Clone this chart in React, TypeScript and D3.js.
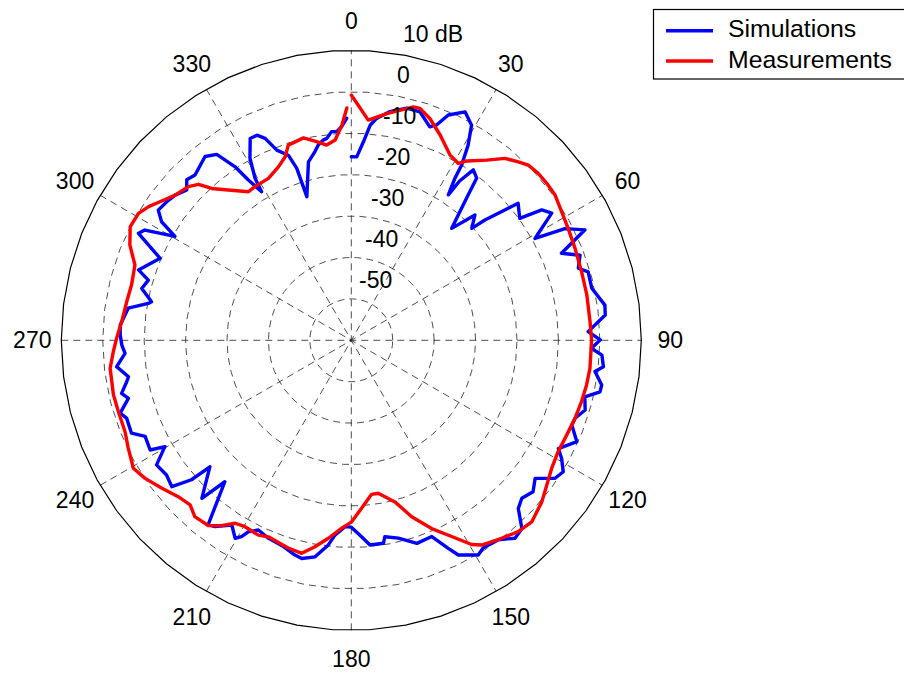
import React from "react";
import * as d3 from "d3";

// Measurement pattern (red), angle in degrees (clockwise from top) and level in dB
const measAngles = [0, 4.4, 8.9, 14.9, 16.5, 19.5, 23.4, 28.0, 31.2, 32.8, 36.9, 40.2, 43.1, 45.3, 48.2, 51.7, 54.5, 58.6, 62.7, 67.6, 73.4, 79.1, 85.5, 89.9, 96.7, 100.8, 104.9, 109.2, 113.7, 118.3, 122.6, 126.5, 130.3, 135.2, 138.9, 142.8, 147.5, 149.5, 152.9, 156.9, 161.1, 164.9, 170.0, 172.5, 176.5, 180.0, 182.9, 186.6, 190.0, 193.1, 196.9, 202.9, 205.5, 209.7, 212.4, 215.0, 217.7, 221.6, 224.4, 227.9, 232.0, 236.2, 239.6, 244.2, 248.0, 253.0, 257.1, 263.4, 267.3, 270.7, 274.6, 279.8, 284.1, 289.2, 293.3, 297.2, 300.8, 303.4, 306.3, 309.5, 313.3, 315.6, 317.4, 320.7, 325.3, 327.9, 332.9, 337.2, 340.2, 342.1, 346.7, 350.1, 352.8, 355.4, 357.5, 358.9];
const measDb = [-0.8, -6.7, -4.6, -1.7, -1.6, -3.2, -6.0, -9.3, -10.1, -8.5, -5.6, -2.5, -1.0, 0.1, 0.5, 0.5, 0.4, -0.5, -1.1, -1.6, -2.0, -2.1, -2.2, -2.0, -2.0, -2.2, -2.5, -2.8, -3.2, -3.3, -2.6, -1.3, 0.3, 1.8, 1.3, 0.0, -1.4, -2.8, -6.8, -10.6, -15.0, -19.6, -22.5, -22.5, -19.4, -16.1, -14.6, -11.9, -9.4, -7.2, -7.6, -8.5, -7.9, -8.2, -7.7, -5.4, -3.5, -3.1, -4.4, -3.7, -2.0, -0.1, 1.0, -0.2, -1.1, -1.2, -1.1, -1.4, -2.5, -3.4, -4.4, -5.0, -5.3, -4.7, -1.8, 0.0, -0.2, -1.4, -3.2, -4.9, -5.9, -7.3, -10.2, -13.1, -16.4, -16.2, -16.1, -14.6, -12.9, -10.5, -9.8, -11.3, -12.5, -11.5, -8.0, -3.9];

// Simulation pattern (blue)
const simAngles = [0, 1.7, 3.5, 5.0, 6.5, 9.6, 13.4, 16.7, 20.2, 21.6, 23.3, 26.5, 29.2, 30.9, 32.2, 32.6, 33.7, 34.2, 35.6, 37.7, 38.8, 41.9, 44.6, 47.1, 48.0, 50.6, 54.1, 55.6, 57.6, 61.0, 62.4, 64.7, 67.5, 69.6, 72.4, 73.9, 77.8, 82.1, 84.3, 87.9, 89.9, 91.9, 93.4, 96.0, 97.3, 100.1, 101.7, 103.6, 106.6, 109.2, 111.0, 114.2, 117.6, 119.3, 121.8, 124.1, 126.9, 129.8, 132.8, 135.2, 137.8, 140.4, 143.6, 147.6, 149.4, 153.5, 155.0, 157.7, 162.1, 166.6, 170.3, 171.0, 174.8, 177.0, 180.0, 181.9, 184.8, 186.4, 189.5, 192.8, 194.7, 198.2, 202.8, 206.1, 208.3, 209.2, 210.4, 212.9, 216.2, 217.8, 221.8, 223.4, 228.2, 228.9, 230.8, 233.9, 237.4, 240.3, 241.4, 245.0, 247.1, 250.9, 252.5, 255.4, 257.0, 259.6, 260.7, 263.6, 266.7, 268.8, 271.3, 273.8, 278.2, 280.3, 280.9, 283.9, 286.5, 288.3, 293.2, 296.7, 298.1, 300.5, 302.0, 304.0, 306.9, 309.5, 312.4, 314.3, 316.6, 321.5, 324.1, 326.2, 327.3, 328.9, 329.3, 330.9, 333.4, 335.3, 336.9, 338.6, 341.2, 342.4, 342.8, 346.5, 349.1, 350.4, 352.0, 353.1, 354.6, 356.0, 357.4, 358.8];
const simDb = [-15.7, -15.7, -12.0, -7.9, -6.1, -4.0, -2.4, -2.4, -5.1, -4.1, -0.8, 1.6, -0.5, -5.1, -10.0, -13.6, -17.8, -13.5, -9.4, -10.5, -15.0, -23.7, -17.5, -20.3, -16.6, -7.9, -9.8, -4.3, -2.7, -9.3, -1.8, 2.4, -5.1, -1.1, -2.5, -0.5, -0.6, 1.8, 1.6, -2.8, 0.1, -2.0, 0.6, 1.2, -0.7, 1.4, 1.3, -2.0, -1.1, -2.8, -3.0, -0.3, -3.6, -1.8, 0.2, -0.6, -4.5, -2.9, -3.9, -2.8, 1.3, 2.0, -0.2, -0.6, 0.2, -2.1, -4.6, -8.8, -8.5, -10.9, -11.9, -10.4, -10.4, -12.5, -14.9, -15.0, -12.8, -10.3, -7.0, -6.0, -6.4, -7.6, -8.2, -9.0, -7.5, -5.7, -4.6, -6.9, -4.3, -3.6, -14.2, -7.5, -14.2, -8.8, -4.1, -4.8, -4.2, -8.2, -4.7, -5.1, -2.4, -2.6, -1.5, -4.4, -3.1, -4.9, -5.5, -3.0, -5.3, -4.6, -4.2, -4.1, -5.6, -10.2, -10.9, -7.9, -8.9, -5.9, -9.8, -2.5, -3.5, -10.6, -6.0, -3.8, -4.3, -4.9, -6.2, -4.5, -5.1, -3.3, -4.6, -9.6, -14.0, -18.1, -14.5, -9.7, -5.5, -5.5, -7.0, -10.7, -12.8, -16.4, -23.7, -15.7, -13.6, -12.2, -11.2, -10.9, -9.4, -9.5, -8.4, -6.4];

const ringValues = [-50, -40, -30, -20, -10, 0];
const ringLabels = ["-50", "-40", "-30", "-20", "-10", "0"];
const outerValue = 10;
const outerLabel = "10 dB";
const angleTicks = [0, 30, 60, 90, 120, 150, 180, 210, 240, 270, 300, 330];
const seriesNames = ["Simulations", "Measurements"];

const W = 904;
const H = 675;
const cx = 351.3;
const cy = 340.3;
const R = 290;
const FONT = "'Liberation Sans', Arial, Helvetica, sans-serif";

export default function App() {
  const r = d3.scaleLinear().domain([-60, outerValue]).range([0, R]);
  const rad = (deg: number) => (deg * Math.PI) / 180;

  // circles drawn as 50-segment polygons (vertex at 3 o'clock)
  const segAngles = d3.range(50).map((k) => Math.PI / 2 - (k * 2 * Math.PI) / 50);
  const ringPath = (radius: number) =>
    d3.lineRadial<number>().angle((a) => a).radius(radius).curve(d3.curveLinearClosed)(segAngles) || "";

  const line = d3
    .lineRadial<[number, number]>()
    .angle((d) => rad(d[0]))
    .radius((d) => r(d[1]))
    .curve(d3.curveLinear);

  const simData: [number, number][] = simAngles.map((a, i) => [a, simDb[i]]);
  const measData: [number, number][] = measAngles.map((a, i) => [a, measDb[i]]);

  const gridStyle = { fill: "none", stroke: "#222", strokeWidth: 0.8, strokeDasharray: "7,5" };

  const labelPos = (v: number, hasMinus: boolean) => {
    const rr = r(v);
    return { x: cx + 0.145 * rr + 1.7 + (hasMinus ? 0 : 8), y: cy - 0.992 * rr - 11 };
  };

  return (
    <svg width={W} height={H} style={{ position: "absolute", left: 0, top: 0, background: "#fff" }}>
      <rect x={0} y={0} width={W} height={H} fill="#fff" />
      <g transform={`translate(${cx},${cy})`}>
        {ringValues.map((v) => (
          <path key={v} d={ringPath(r(v))} {...gridStyle} />
        ))}
        {angleTicks.slice(0, 6).map((a) => {
          const x = R * Math.sin(rad(a));
          const y = -R * Math.cos(rad(a));
          return <line key={a} x1={-x} y1={-y} x2={x} y2={y} {...gridStyle} />;
        })}
        <path d={ringPath(R)} fill="none" stroke="#000" strokeWidth={1.2} />
        <path d={line(simData) || ""} fill="none" stroke="#0000ff" strokeWidth={3.4} strokeLinejoin="round" strokeLinecap="round" />
        <path d={line(measData) || ""} fill="none" stroke="#ff0000" strokeWidth={3.4} strokeLinejoin="round" strokeLinecap="round" />
      </g>
      {angleTicks.map((a) => (
        <text
          key={a}
          x={cx + 1.1 * R * Math.sin(rad(a))}
          y={cy - 1.1 * R * Math.cos(rad(a))}
          textAnchor="middle"
          dominantBaseline="central"
          fontFamily={FONT}
          fontSize={23}
        >
          {a}
        </text>
      ))}
      {ringValues.map((v, i) => {
        const p = labelPos(v, ringLabels[i].startsWith("-"));
        return (
          <text key={v} x={p.x} y={p.y} fontFamily={FONT} fontSize={23}>
            {ringLabels[i]}
          </text>
        );
      })}
      {(() => {
        const p = labelPos(outerValue, false);
        return (
          <text x={p.x} y={p.y} fontFamily={FONT} fontSize={23}>
            {outerLabel}
          </text>
        );
      })()}
      <g>
        <rect x={653.5} y={9.5} width={270} height={69.5} fill="#fff" stroke="#000" strokeWidth={1.2} />
        <line x1={666} x2={713} y1={30.7} y2={30.7} stroke="#0000ff" strokeWidth={3.4} />
        <line x1={666} x2={713} y1={61} y2={61} stroke="#ff0000" strokeWidth={3.4} />
        <text x={728} y={37} fontFamily={FONT} fontSize={24.8}>
          {seriesNames[0]}
        </text>
        <text x={728} y={68} fontFamily={FONT} fontSize={24.8}>
          {seriesNames[1]}
        </text>
      </g>
    </svg>
  );
}
